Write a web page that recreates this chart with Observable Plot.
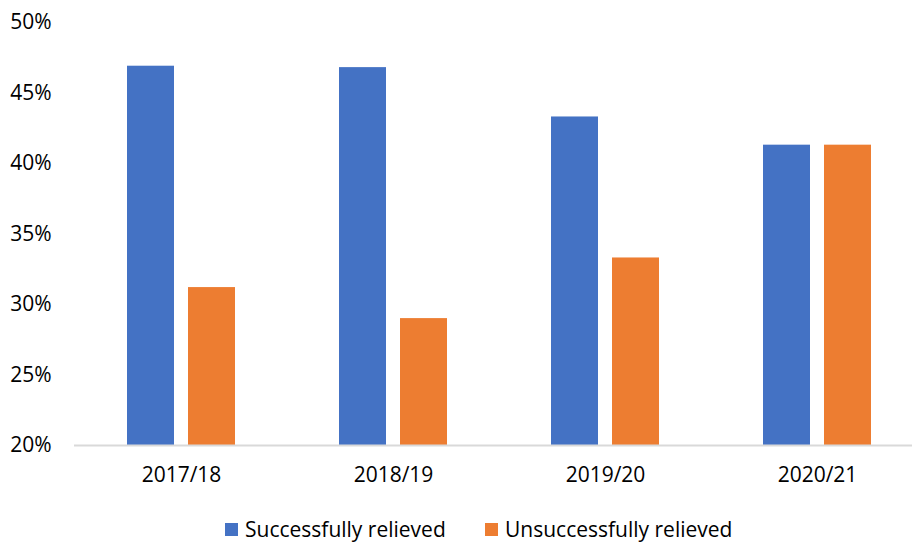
<!DOCTYPE html>
<html>
<head>
<meta charset="utf-8">
<script src="https://cdn.jsdelivr.net/npm/d3@7"></script>
<script src="https://cdn.jsdelivr.net/npm/@observablehq/plot@0.6"></script>
<style>
  body { margin: 0; background: #fff; font-family: "Open Sans", sans-serif; }
  #legend { height: 37px; font-size: 21px; color: #000; position: relative; }
  #legend .item { display: flex; align-items: center; position: absolute; top: 10px; }
  #legend .sw { width: 13px; height: 13px; margin-right: 7px; }
</style>
</head>
<body>
<div id="chart"></div>
<div id="legend"></div>
<script>
const years = ["2017/18", "2018/19", "2019/20", "2020/21"];
const seriesNames = ["Successfully relieved", "Unsuccessfully relieved"];
const successfully = [46.9, 46.8, 43.3, 41.3];
const unsuccessfully = [31.2, 29.0, 33.3, 41.3];
const colors = ["#4472C4", "#ED7D31"];
const yTicks = [20, 25, 30, 35, 40, 45, 50];

const rowsS = years.map((y, i) => ({year: y, value: successfully[i]}));
const rowsU = years.map((y, i) => ({year: y, value: unsuccessfully[i]}));

const plot = Plot.plot({
  width: 912,
  height: 505,
  marginLeft: 74,
  marginRight: 0,
  marginTop: 22,
  marginBottom: 60,
  style: {fontFamily: "'Open Sans', sans-serif", fontSize: "21px", color: "#000", background: "#fff"},
  x: {domain: years, range: [74, 924], padding: 0},
  y: {domain: [20, 50]},
  marks: [
    Plot.barY(rowsS, {x: "year", y1: 20, y2: "value", fill: colors[0], insetLeft: 52, insetRight: 113}),
    Plot.barY(rowsU, {x: "year", y1: 20, y2: "value", fill: colors[1], insetLeft: 113, insetRight: 52}),
    Plot.ruleY([20], {stroke: "#D9D9D9", strokeWidth: 2}),
    Plot.axisY({ticks: yTicks, tickSize: 0, tickPadding: 23, tickFormat: d => d + "%", label: null, fontSize: 21}),
    Plot.axisX({tickSize: 0, tickPadding: 22, label: null, fontSize: 21})
  ]
});
document.getElementById("chart").appendChild(plot);

const legend = d3.select("#legend");
const lefts = [225, 485];
seriesNames.forEach((name, i) => {
  const item = legend.append("div").attr("class", "item").style("left", lefts[i] + "px");
  item.append("div").attr("class", "sw").style("background", colors[i]);
  item.append("span").text(name);
});
</script>
</body>
</html>
